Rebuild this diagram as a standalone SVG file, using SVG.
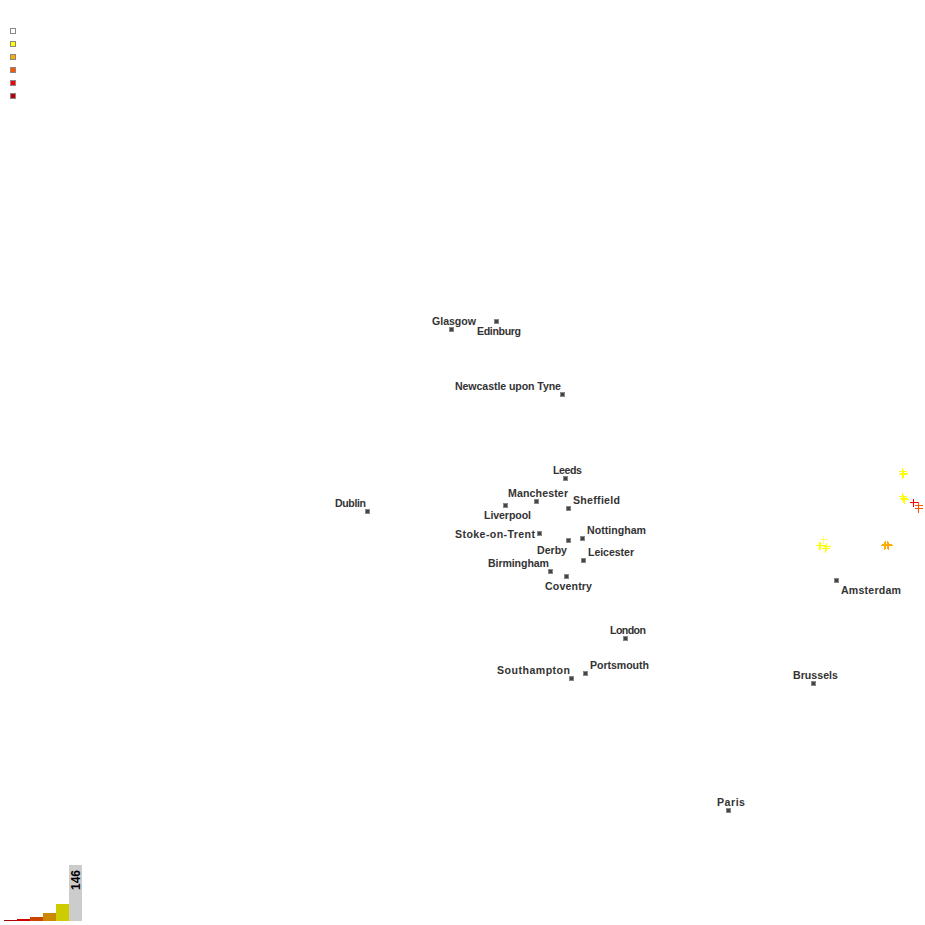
<svg xmlns="http://www.w3.org/2000/svg" width="925" height="925" viewBox="0 0 925 925">
<style>
text{font-family:"Liberation Sans",Arial,sans-serif;font-weight:700;font-size:10.6px;fill:#333}
.c{fill:#444;stroke:#888;stroke-width:1;shape-rendering:crispEdges}
.l{stroke:#888;stroke-width:1;shape-rendering:crispEdges}
.x{fill:none;stroke-width:1;shape-rendering:crispEdges}
</style>
<defs><path id="p" d="M-4 0H4M0 -4V4"/></defs>
<rect width="925" height="925" fill="#fff"/>
<g id="legend"><rect class="l" x="10.500" y="28.500" width="5" height="5" fill="#fff"/><rect class="l" x="10.500" y="41.500" width="5" height="5" fill="#ff0"/><rect class="l" x="10.500" y="54.500" width="5" height="5" fill="#fa0"/><rect class="l" x="10.500" y="67.500" width="5" height="5" fill="#f50"/><rect class="l" x="10.500" y="80.500" width="5" height="5" fill="#f00"/><rect class="l" x="10.500" y="93.500" width="5" height="5" fill="#b00"/></g>
<g id="histogram" shape-rendering="crispEdges"><rect x="4" y="920" width="13" height="1" fill="#aa0000"/><rect x="17" y="919" width="13" height="2" fill="#cc0000"/><rect x="30" y="917" width="13" height="4" fill="#cc4400"/><rect x="43" y="913" width="13" height="8" fill="#cc8800"/><rect x="56" y="904" width="13" height="17" fill="#cccc00"/><rect x="69" y="865" width="13" height="56" fill="#cccccc"/><text transform="translate(80,890) rotate(-90)" style="font-size:12px;fill:#000">146</text></g>
<g id="points" class="x">
<use href="#p" x="902.500" y="471.500" stroke="#ff0"/><use href="#p" x="902.500" y="474.500" stroke="#ff0"/><use href="#p" x="903.500" y="473.500" stroke="#ff0"/>
<use href="#p" x="902.500" y="496.500" stroke="#ff0"/><use href="#p" x="903.500" y="498.500" stroke="#ff0"/><use href="#p" x="904.500" y="499.500" stroke="#ff0"/>
<use href="#p" x="913.500" y="502.500" stroke="#f00"/><use href="#p" x="918.500" y="505.500" stroke="#f50"/><use href="#p" x="918.500" y="508.500" stroke="#f50"/>
<use href="#p" x="884.500" y="545.500" stroke="#fa0"/><use href="#p" x="885.500" y="544.500" stroke="#fa0"/><use href="#p" x="888.500" y="545.500" stroke="#fa0"/><use href="#p" x="887.500" y="544.500" stroke="#fa0"/>
<use href="#p" x="823.500" y="539.500" stroke="#ffff80"/><use href="#p" x="819.500" y="545.500" stroke="#ff0"/><use href="#p" x="820.500" y="545.500" stroke="#ff0"/><use href="#p" x="826.500" y="546.500" stroke="#ff0"/><use href="#p" x="825.500" y="548.500" stroke="#ff0"/>
</g>
<g id="Glasgow"><rect class="c" x="449.500" y="327.500" width="4" height="4"/><text x="432" y="325" textLength="44">Glasgow</text></g>
<g id="Edinburg"><rect class="c" x="494.500" y="319.500" width="4" height="4"/><text x="477" y="335" textLength="44">Edinburg</text></g>
<g id="Newcastle"><rect class="c" x="560.500" y="392.500" width="4" height="4"/><text x="455" y="390" textLength="106">Newcastle upon Tyne</text></g>
<g id="Leeds"><rect class="c" x="563.500" y="476.500" width="4" height="4"/><text x="553" y="474" textLength="29">Leeds</text></g>
<g id="Manchester"><rect class="c" x="534.500" y="499.500" width="4" height="4"/><text x="508" y="497" textLength="60">Manchester</text></g>
<g id="Liverpool"><rect class="c" x="503.500" y="503.500" width="4" height="4"/><text x="484" y="519" textLength="47">Liverpool</text></g>
<g id="Sheffield"><rect class="c" x="566.500" y="506.500" width="4" height="4"/><text x="573" y="504" textLength="47">Sheffield</text></g>
<g id="Dublin"><rect class="c" x="365.500" y="509.500" width="4" height="4"/><text x="335" y="507" textLength="31">Dublin</text></g>
<g id="Stoke"><rect class="c" x="537.500" y="531.500" width="4" height="4"/><text x="455" y="538" textLength="80">Stoke-on-Trent</text></g>
<g id="Nottingham"><rect class="c" x="580.500" y="536.500" width="4" height="4"/><text x="587" y="534" textLength="59">Nottingham</text></g>
<g id="Derby"><rect class="c" x="566.500" y="538.500" width="4" height="4"/><text x="537" y="554" textLength="30">Derby</text></g>
<g id="Leicester"><rect class="c" x="581.500" y="558.500" width="4" height="4"/><text x="588" y="556" textLength="46">Leicester</text></g>
<g id="Birmingham"><rect class="c" x="548.500" y="569.500" width="4" height="4"/><text x="488" y="567" textLength="61">Birmingham</text></g>
<g id="Coventry"><rect class="c" x="564.500" y="574.500" width="4" height="4"/><text x="545" y="590" textLength="47">Coventry</text></g>
<g id="Amsterdam"><rect class="c" x="834.500" y="578.500" width="4" height="4"/><text x="841" y="594" textLength="60">Amsterdam</text></g>
<g id="London"><rect class="c" x="623.500" y="636.500" width="4" height="4"/><text x="610" y="634" textLength="36">London</text></g>
<g id="Portsmouth"><rect class="c" x="583.500" y="671.500" width="4" height="4"/><text x="590" y="669" textLength="59">Portsmouth</text></g>
<g id="Southampton"><rect class="c" x="569.500" y="676.500" width="4" height="4"/><text x="497" y="674" textLength="73">Southampton</text></g>
<g id="Brussels"><rect class="c" x="811.500" y="681.500" width="4" height="4"/><text x="793" y="679" textLength="45">Brussels</text></g>
<g id="Paris"><rect class="c" x="726.500" y="808.500" width="4" height="4"/><text x="717" y="806" textLength="28">Paris</text></g>
</svg>
